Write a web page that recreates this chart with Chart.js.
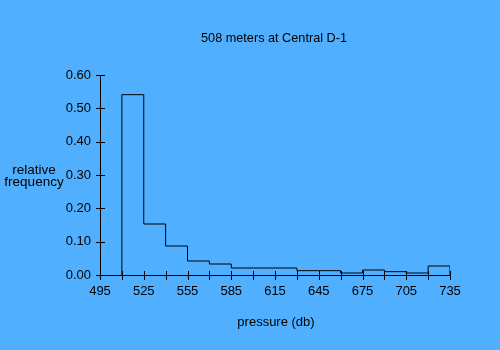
<!DOCTYPE html>
<html>
<head>
<meta charset="utf-8">
<script src="https://cdn.jsdelivr.net/npm/chart.js@4"></script>
<style>
  html, body { margin: 0; padding: 0; background: #50b0ff; }
  #wrap { width: 500px; height: 350px; }
</style>
</head>
<body>
<div id="wrap"><canvas id="chart"></canvas></div>
<script>
// ── Data ──────────────────────────────────────────────────────────────
const binStarts = [510, 525, 540, 555, 570, 585, 600, 615, 630, 645, 660, 675, 690, 705, 720];
const binWidth  = 15;
const frequency = [0.541, 0.153, 0.087, 0.042, 0.033, 0.021, 0.021, 0.021, 0.013, 0.013, 0.006, 0.015, 0.010, 0.006, 0.027];
const xTicks    = [495, 525, 555, 585, 615, 645, 675, 705, 735];
const yTicks    = [0, 0.1, 0.2, 0.3, 0.4, 0.5, 0.6];

// step outline: up at first edge, across each bin, down at last edge
const outline = [{ x: binStarts[0], y: 0 }];
binStarts.forEach(function (s, i) { outline.push({ x: s, y: frequency[i] }); });
const lastEdge = binStarts[binStarts.length - 1] + binWidth;
outline.push({ x: lastEdge, y: frequency[frequency.length - 1] });
outline.push({ x: lastEdge, y: 0 });

const tickFont = { family: '"Liberation Sans Narrow", "Liberation Sans", Arial, sans-serif', size: 13 };

// ── Plugin: crossing tick marks + free text labels ───────────────────
const decor = {
    id: 'decor',
    afterDraw: function (chart) {
        const ctx = chart.ctx;
        const xs = chart.scales.x, ys = chart.scales.y;
        const a = chart.chartArea;
        ctx.save();
        ctx.strokeStyle = '#000';
        ctx.lineWidth = 1;
        ctx.beginPath();
        for (let v = xs.min; v <= xs.max; v += binWidth) {
            const px = Math.round(xs.getPixelForValue(v)) + 0.5;
            ctx.moveTo(px, a.bottom - 4);
            ctx.lineTo(px, a.bottom + 5);
        }
        yTicks.forEach(function (v) {
            const py = Math.round(ys.getPixelForValue(v)) + 0.5;
            ctx.moveTo(a.left - 4, py);
            ctx.lineTo(a.left + 5, py);
        });
        ctx.stroke();

        ctx.fillStyle = '#000';
        ctx.font = '12.7px "Liberation Sans", Arial, sans-serif';
        ctx.textAlign = 'center';
        ctx.textBaseline = 'middle';
        ctx.fillText('508 meters at Central D-1', 274, 38);
        ctx.font = '13.5px "Liberation Sans", Arial, sans-serif';
        ctx.fillText('relative', 34, 170);
        ctx.fillText('frequency', 34, 182);
        ctx.font = '13px "Liberation Sans", Arial, sans-serif';
        ctx.fillText('pressure (db)', 276, 322);
        ctx.restore();
    }
};

new Chart(document.getElementById('chart'), {
    type: 'line',
    data: {
        datasets: [{
            data: outline,
            stepped: 'before',
            borderColor: '#000',
            borderWidth: 1,
            pointRadius: 0,
            fill: false
        }]
    },
    options: {
        responsive: true,
        maintainAspectRatio: false,
        animation: false,
        layout: { padding: { left: 0, top: 75, right: 50, bottom: 0 } },
        plugins: {
            legend: { display: false },
            tooltip: { enabled: false }
        },
        scales: {
            x: {
                type: 'linear',
                min: 495,
                max: 735,
                afterFit: function (s) { s.height = 75; },
                afterBuildTicks: function (s) {
                    s.ticks = xTicks.map(function (v) { return { value: v }; });
                },
                grid: { display: false },
                border: { display: true, color: '#000', width: 1 },
                ticks: {
                    color: '#000',
                    padding: 1,
                    maxRotation: 0,
                    autoSkip: false,
                    font: tickFont
                }
            },
            y: {
                min: 0,
                max: 0.6,
                afterFit: function (s) { s.width = 100; },
                afterBuildTicks: function (s) {
                    s.ticks = yTicks.map(function (v) { return { value: v }; });
                },
                grid: { display: false },
                border: { display: true, color: '#000', width: 1 },
                ticks: {
                    color: '#000',
                    padding: 1,
                    font: tickFont,
                    callback: function (v) { return v.toFixed(2); }
                }
            }
        }
    },
    plugins: [decor]
});
</script>
</body>
</html>
